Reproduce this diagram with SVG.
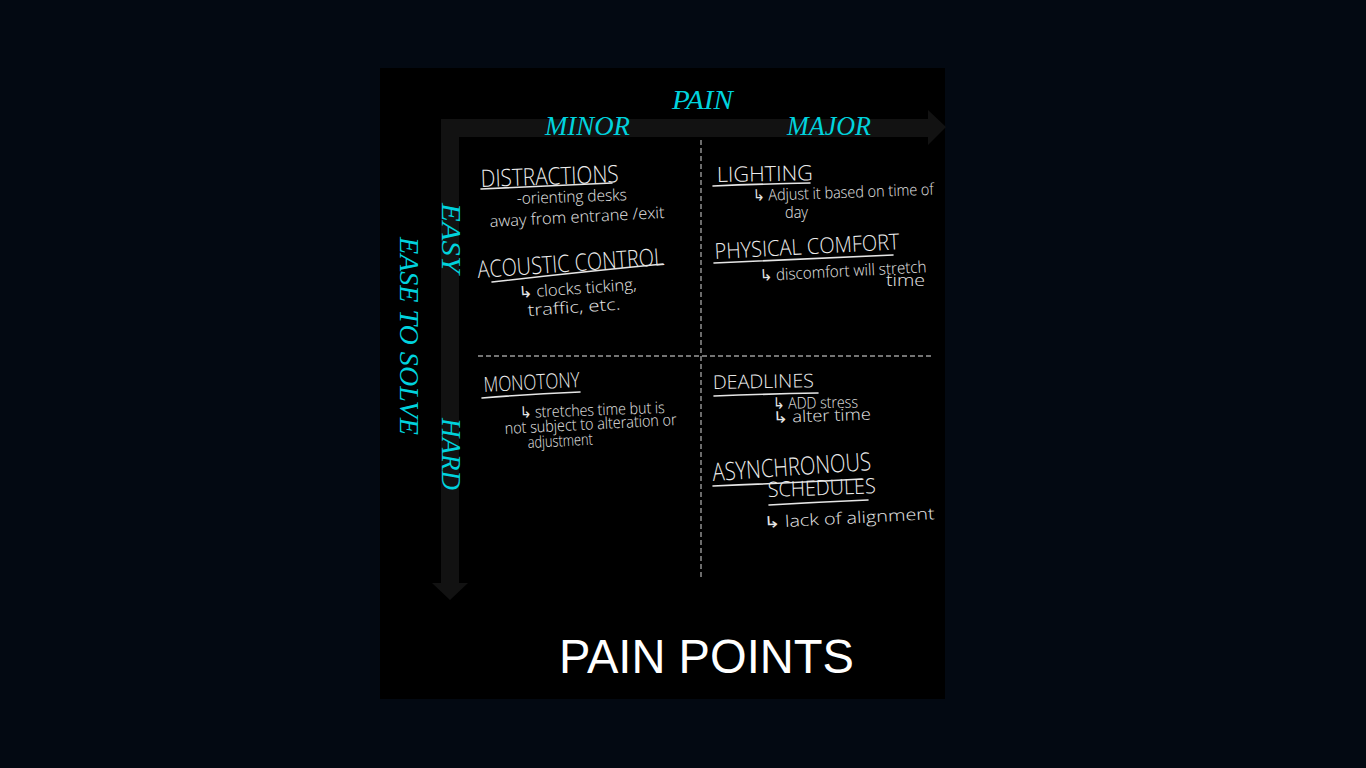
<svg xmlns="http://www.w3.org/2000/svg" width="1366" height="768" viewBox="0 0 1366 768">
  <style>
    .axis { font-family: "Liberation Serif", serif; font-style: italic; font-size: 27px; fill: #00d3de; }
    .head { font-family: "Open Sans", "DejaVu Sans", sans-serif; font-weight: 300; fill: #ececec; }
    .note { font-family: "Open Sans", "DejaVu Sans", sans-serif; font-weight: 300; font-size: 16px; fill: #e6e6e6; }
    .uline { stroke: #e6e6e6; stroke-width: 1.6; fill: none; stroke-linecap: round; }
    .divider { stroke: #9a9a9a; stroke-width: 1.4; stroke-dasharray: 5 3; fill: none; }
    .title { font-family: "Liberation Sans", Arial, sans-serif; font-size: 48px; fill: #ffffff; }
  </style>

  <!-- page and board -->
  <rect width="1366" height="768" fill="#030912"/>
  <rect x="380" y="68" width="565" height="631" fill="#000000"/>

  <!-- axes: one L-shaped double arrow -->
  <g id="axes">
    <polygon fill="#121212" points="441,119 928,119 928,110 946,127 928,145 928,137 459,137 459,583 468,583 450,600 432,583 441,583"/>
  </g>

  <!-- quadrant dividers -->
  <g id="connectors">
    <line class="divider" x1="701" y1="140" x2="701" y2="580"/>
    <line class="divider" x1="478" y1="356" x2="932" y2="356"/>
  </g>

  <!-- axis labels -->
  <g id="axis-labels">
    <text class="axis" x="672" y="109" textLength="61" lengthAdjust="spacingAndGlyphs">PAIN</text>
    <text class="axis" x="545" y="135" textLength="85" lengthAdjust="spacingAndGlyphs">MINOR</text>
    <text class="axis" x="787" y="135" textLength="84" lengthAdjust="spacingAndGlyphs">MAJOR</text>
    <text class="axis" transform="translate(442,203) rotate(90)" textLength="70" lengthAdjust="spacingAndGlyphs">EASY</text>
    <text class="axis" transform="translate(442,418) rotate(90)" textLength="72" lengthAdjust="spacingAndGlyphs">HARD</text>
    <text class="axis" transform="translate(400,237) rotate(90)" textLength="198" lengthAdjust="spacingAndGlyphs">EASE TO SOLVE</text>
  </g>

  <!-- minor / easy -->
  <g id="distractions">
    <text class="head" font-size="24" transform="translate(481,187) rotate(-2)" textLength="138" lengthAdjust="spacingAndGlyphs">DISTRACTIONS</text>
    <path class="uline" d="M481,189 Q550,186 612,183"/>
    <text class="note" transform="translate(517,204) rotate(-2)" textLength="110" lengthAdjust="spacingAndGlyphs">-orienting desks</text>
    <text class="note" transform="translate(490,227) rotate(-3)" textLength="175" lengthAdjust="spacingAndGlyphs">away from entrane /exit</text>
  </g>
  <g id="acoustic-control">
    <text class="head" font-size="24" transform="translate(478,278) rotate(-4)" textLength="187" lengthAdjust="spacingAndGlyphs">ACOUSTIC CONTROL</text>
    <path class="uline" d="M492,282 Q580,272 663,264"/>
    <text class="note" transform="translate(519,298) rotate(-4)" textLength="118" lengthAdjust="spacingAndGlyphs">↳ clocks ticking,</text>
    <text class="note" transform="translate(528,316) rotate(-4)" textLength="93" lengthAdjust="spacingAndGlyphs">traffic, etc.</text>
  </g>

  <!-- major / easy -->
  <g id="lighting">
    <text class="head" font-size="21" transform="translate(717,182) rotate(-1)" textLength="96" lengthAdjust="spacingAndGlyphs">LIGHTING</text>
    <path class="uline" d="M713,186 Q760,184 810,183"/>
    <text class="note" transform="translate(753,201) rotate(-2)" textLength="181" lengthAdjust="spacingAndGlyphs">↳ Adjust it based on time of</text>
    <text class="note" x="785" y="218" textLength="23" lengthAdjust="spacingAndGlyphs">day</text>
  </g>
  <g id="physical-comfort">
    <text class="head" font-size="22" transform="translate(715,259) rotate(-3)" textLength="185" lengthAdjust="spacingAndGlyphs">PHYSICAL COMFORT</text>
    <path class="uline" d="M714,263 Q800,259 893,255"/>
    <text class="note" transform="translate(760,281) rotate(-3)" textLength="167" lengthAdjust="spacingAndGlyphs">↳ discomfort will stretch</text>
    <text class="note" font-size="14" x="886" y="286" textLength="39" lengthAdjust="spacingAndGlyphs">time</text>
  </g>

  <!-- minor / hard -->
  <g id="monotony">
    <text class="head" font-size="21" transform="translate(484,392) rotate(-3)" textLength="96" lengthAdjust="spacingAndGlyphs">MONOTONY</text>
    <path class="uline" d="M482,398 Q530,394 580,392"/>
    <text class="note" font-size="15" transform="translate(520,418) rotate(-2)" textLength="145" lengthAdjust="spacingAndGlyphs">↳ stretches time but is</text>
    <text class="note" font-size="15" transform="translate(505,434) rotate(-3)" textLength="172" lengthAdjust="spacingAndGlyphs">not subject to alteration or</text>
    <text class="note" font-size="15" transform="translate(528,448) rotate(-3)" textLength="65" lengthAdjust="spacingAndGlyphs">adjustment</text>
  </g>

  <!-- major / hard -->
  <g id="deadlines">
    <text class="head" font-size="19" transform="translate(713,389) rotate(-1)" textLength="101" lengthAdjust="spacingAndGlyphs">DEADLINES</text>
    <path class="uline" d="M714,396 Q765,394 818,393"/>
    <text class="note" font-size="14" transform="translate(773,409) rotate(-1)" textLength="85" lengthAdjust="spacingAndGlyphs">↳ ADD stress</text>
    <text class="note" font-size="14" transform="translate(773,423) rotate(-2)" textLength="98" lengthAdjust="spacingAndGlyphs">↳ alter time</text>
  </g>
  <g id="asynchronous-schedules">
    <text class="head" font-size="25" transform="translate(713,481) rotate(-4)" textLength="159" lengthAdjust="spacingAndGlyphs">ASYNCHRONOUS</text>
    <path class="uline" d="M713,486 Q790,483 862,479"/>
    <text class="head" font-size="21" transform="translate(768,497) rotate(-2)" textLength="108" lengthAdjust="spacingAndGlyphs">SCHEDULES</text>
    <path class="uline" d="M769,505 Q820,502 868,500"/>
    <text class="note" font-size="19" transform="translate(764,528) rotate(-3)" textLength="171" lengthAdjust="spacingAndGlyphs">↳ lack of alignment</text>
  </g>

  <!-- board title -->
  <g id="title">
    <text class="title" x="559" y="673" textLength="295" lengthAdjust="spacingAndGlyphs">PAIN POINTS</text>
  </g>
</svg>
